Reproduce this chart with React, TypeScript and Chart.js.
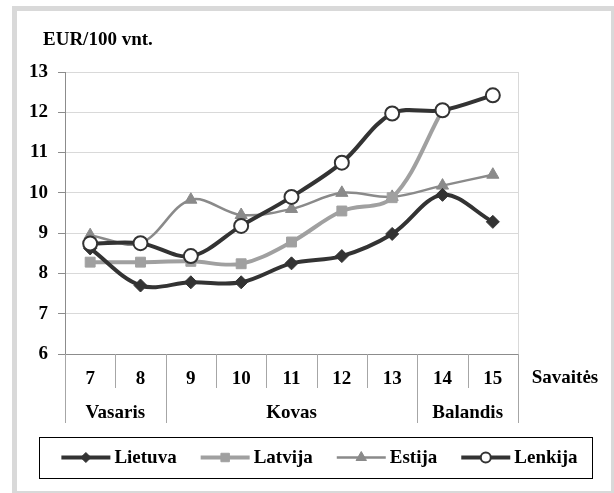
import { useEffect, useRef } from 'react';
import { Chart, registerables } from 'chart.js';
import { drawPoint } from 'chart.js/helpers';

Chart.register(...registerables);

const weeks = ['7', '8', '9', '10', '11', '12', '13', '14', '15'];
const monthLabels = ['Vasaris', 'Kovas', 'Balandis'];
const monthSpans = [2, 5, 2];
const seriesNames = ['Lietuva', 'Latvija', 'Estija', 'Lenkija'];
const lietuva = [8.62, 7.7, 7.78, 7.78, 8.25, 8.43, 8.98, 9.95, 9.28];
const latvija = [8.28, 8.28, 8.3, 8.24, 8.78, 9.55, 9.88, 12.05, null];
const estija = [8.95, 8.75, 9.83, 9.45, 9.6, 10.0, 9.9, 10.18, 10.45];
const lenkija = [8.74, 8.75, 8.43, 9.18, 9.9, 10.75, 11.97, 12.05, 12.42];
const yMin = 6;
const yMax = 13;
const yUnit = 'EUR/100 vnt.';
const xUnit = 'Savaitės';

const FAMILY = '"Liberation Serif", "Times New Roman", serif';
const FONT = `bold 19px ${FAMILY}`;

const styles = [
  { color: '#333333', width: 4, point: 'rectRot', radius: 6.5, fill: '#333333', pBorder: 1, legendR: 5 },
  { color: '#a0a0a0', width: 4, point: 'rect', radius: 7, fill: '#a0a0a0', pBorder: 1, legendR: 6 },
  { color: '#8a8a8a', width: 2.5, point: 'triangle', radius: 7, fill: '#8a8a8a', pBorder: 1, legendR: 6 },
  { color: '#333333', width: 4, point: 'circle', radius: 7, fill: '#ffffff', pBorder: 2, legendR: 5 },
];

const decor = {
  id: 'decor',
  beforeDraw(chart: any) {
    const ctx = chart.ctx;
    ctx.save();
    ctx.fillStyle = '#ffffff';
    ctx.fillRect(0, 0, chart.width, chart.height);
    ctx.fillStyle = '#d9d9d9';
    ctx.fillRect(12, 6, 602, 5);
    ctx.fillRect(12, 6, 5, 487);
    ctx.fillRect(611, 6, 3, 487);
    ctx.fillRect(12, 491, 602, 2);
    ctx.restore();
  },
  afterDraw(chart: any) {
    const ctx = chart.ctx;
    const ca = chart.chartArea;
    const x = chart.scales.x;
    ctx.save();
    // plot right border
    ctx.strokeStyle = '#d9d9d9';
    ctx.lineWidth = 1;
    ctx.beginPath();
    ctx.moveTo(Math.round(ca.right) + 0.5, ca.top);
    ctx.lineTo(Math.round(ca.right) + 0.5, ca.bottom);
    ctx.stroke();

    // y unit title
    ctx.fillStyle = '#000';
    ctx.font = FONT;
    ctx.textAlign = 'left';
    ctx.textBaseline = 'alphabetic';
    ctx.fillText(yUnit, 43, 45);

    // separators in the category area
    const rowBottom = ca.bottom + 34;
    const monthBottom = ca.bottom + 69;
    const bound = (i: number) => Math.round(x.getPixelForValue(i - 0.5)) + 0.5;
    ctx.strokeStyle = '#a6a6a6';
    ctx.beginPath();
    for (let i = 0; i <= weeks.length; i++) {
      const px = bound(i);
      ctx.moveTo(px, ca.bottom);
      ctx.lineTo(px, rowBottom);
    }
    let acc = 0;
    const groupBounds = [0];
    monthSpans.forEach((s) => { acc += s; groupBounds.push(acc); });
    groupBounds.forEach((g) => {
      const px = bound(g);
      ctx.moveTo(px, rowBottom);
      ctx.lineTo(px, monthBottom);
    });
    ctx.stroke();

    // month labels
    ctx.textAlign = 'center';
    ctx.textBaseline = 'alphabetic';
    monthLabels.forEach((m, k) => {
      const a = x.getPixelForValue(groupBounds[k] - 0.5);
      const b = x.getPixelForValue(groupBounds[k + 1] - 0.5);
      ctx.fillText(m, (a + b) / 2, ca.bottom + 64);
    });
    // x unit
    ctx.fillText(xUnit, 565, ca.bottom + 29);

    // legend
    const bx = 39, by = 437, bw = 553, bh = 41;
    ctx.strokeStyle = '#000';
    ctx.lineWidth = 1;
    ctx.strokeRect(bx + 0.5, by + 0.5, bw, bh);
    const lineLen = 49, gapText = 4, gapItem = 24;
    const widths = seriesNames.map((n) => ctx.measureText(n).width);
    const total = widths.reduce((s, w) => s + lineLen + gapText + w, 0) + gapItem * (seriesNames.length - 1);
    let cx = bx + bw / 2 - total / 2 + 4;
    const cy = by + bh / 2;
    seriesNames.forEach((n, i) => {
      const st = styles[i];
      ctx.strokeStyle = st.color;
      ctx.lineWidth = st.width;
      ctx.lineCap = 'butt';
      ctx.beginPath();
      ctx.moveTo(cx, cy);
      ctx.lineTo(cx + lineLen, cy);
      ctx.stroke();
      ctx.fillStyle = st.fill;
      ctx.strokeStyle = st.color;
      ctx.lineWidth = st.pBorder;
      drawPoint(ctx, { pointStyle: st.point as any, rotation: 0, radius: st.legendR, borderWidth: st.pBorder }, cx + lineLen / 2, cy);
      ctx.fillStyle = '#000';
      ctx.textAlign = 'left';
      ctx.textBaseline = 'middle';
      ctx.fillText(n, cx + lineLen + gapText, cy + 1);
      cx += lineLen + gapText + widths[i] + gapItem;
    });
    ctx.restore();
  },
};

export default function App() {
  const ref = useRef<HTMLCanvasElement>(null);
  useEffect(() => {
    document.body.style.margin = '0';
    const seriesData = [lietuva, latvija, estija, lenkija];
    const orders = [1, 2, 3, 0];
    const chart = new Chart(ref.current!, {
      type: 'line',
      data: {
        labels: weeks,
        datasets: seriesNames.map((name, i) => ({
          label: name,
          data: seriesData[i],
          borderColor: styles[i].color,
          borderWidth: styles[i].width,
          backgroundColor: styles[i].fill,
          pointStyle: styles[i].point as any,
          pointRadius: styles[i].radius,
          pointBackgroundColor: styles[i].fill,
          pointBorderColor: styles[i].color,
          pointBorderWidth: styles[i].pBorder,
          tension: 0.35,
          spanGaps: false,
          order: orders[i],
        })),
      },
      options: {
        responsive: false,
        animation: false,
        layout: { padding: { top: 72, right: 96, bottom: 69, left: 0 } },
        plugins: { legend: { display: false }, tooltip: { enabled: false } },
        scales: {
          x: {
            offset: true,
            grid: { display: false, offset: true },
            border: { display: true, color: '#8c8c8c', width: 1 },
            ticks: {
              color: '#000',
              font: { family: FAMILY, size: 19, weight: 'bold' },
              padding: 6,
              maxRotation: 0,
              autoSkip: false,
            },
            afterFit: (s: any) => { s.height = 70; },
          },
          y: {
            min: yMin,
            max: yMax,
            grid: { color: '#d9d9d9', tickColor: '#8c8c8c', tickLength: 7 },
            border: { display: true, color: '#8c8c8c', width: 1 },
            ticks: {
              stepSize: 1,
              color: '#000',
              font: { family: FAMILY, size: 19, weight: 'bold' },
              padding: 10,
            },
            afterFit: (s: any) => { s.width = 65; },
          },
        },
      },
      plugins: [decor],
    });
    return () => chart.destroy();
  }, []);
  return (
    <div style={{ width: 614, height: 493 }}>
      <canvas ref={ref} width={614} height={493} style={{ display: 'block' }} />
    </div>
  );
}
